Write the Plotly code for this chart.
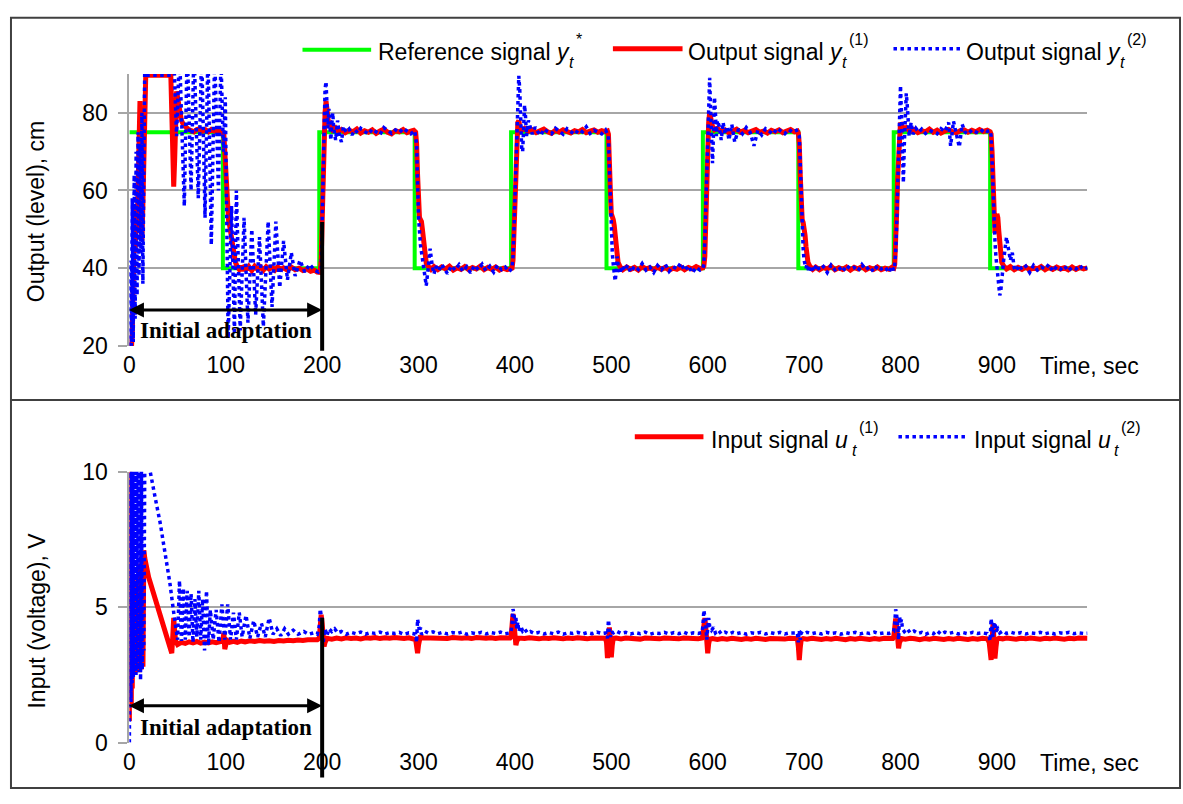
import plotly.graph_objects as go

W, H = 1183, 804

# ---------------- data (time in s) ----------------
x_ticks = [0, 100, 200, 300, 400, 500, 600, 700, 800, 900]
y_ticks_top = [20, 40, 60, 80]
y_ticks_bot = [0, 5, 10]

ref_pts = [(0, 75), (97, 75), (97, 40), (197, 40), (197, 75), (296, 75), (296, 40), (396, 40), (396, 75),
           (495, 75), (495, 40), (595, 40), (595, 75), (694, 75), (694, 40), (793, 40), (793, 75),
           (893, 75), (893, 40), (994, 40)]

out1_pts = [
    (0, 20), (1, 19.5), (2, 19), (3, 23), (4, 38), (5, 50), (6, 44), (7, 56), (8, 49), (9, 66), (10, 76), (11, 83),
    (12, 62), (13, 47), (14, 56), (15, 74), (16, 86), (17, 89.7), (30, 89.7), (43, 89.7), (44, 80), (45, 70), (46, 61),
    (47, 68), (48, 79), (49, 85.5), (50, 84), (52, 80), (54, 78), (56, 77), (58, 76.3), (61, 75.8), (64, 75.4), (67, 75.1),
    (70, 75.7), (73, 75.9), (76, 75.3), (79, 75.6), (82, 75.1), (85, 75.7), (88, 75.3), (91, 75.6), (94, 75.2), (96, 75),
    (98, 74.4), (99, 70), (100, 62), (101, 56), (102, 53), (103, 52), (104, 51), (105, 49.5), (106, 47.5), (107, 45.5),
    (108, 44), (109, 42.5), (110, 41.5), (112, 40.4), (114, 39.7), (116, 40.6), (118, 39.3), (120, 40.8), (122, 39.6),
    (124, 40.4), (127, 39.4), (130, 40.5), (133, 39.7), (136, 40.3), (139, 39.5), (142, 40.4), (145, 39.8), (148, 40.2),
    (151, 39.5), (154, 40.3), (157, 39.7), (160, 40.1), (164, 39.5), (168, 40.3), (172, 39.6), (176, 40), (180, 39.4),
    (184, 39.8), (188, 39.2), (192, 39.5), (195, 39), (198, 38.9),
    (199, 42), (200, 52), (201, 64), (202, 74), (203, 80), (204, 83), (205, 81), (206, 78), (207, 76.5), (209, 77),
    (211, 75.6), (214, 76.1), (217, 75.2), (220, 75.7), (224, 74.9), (228, 75.5), (232, 75.1), (236, 75.8), (240, 74.8),
    (244, 75.4), (248, 75), (252, 75.6), (256, 74.7), (260, 75.3), (264, 75.8), (268, 75), (272, 74.6), (276, 75.4),
    (280, 75.1), (284, 75.7), (288, 74.9), (292, 75.3), (295, 75.5), (297, 75),
    (298, 72), (299, 64), (300, 56), (301, 53), (302, 52.5), (303, 52), (304, 50), (305, 47), (306, 44.5), (307, 42.5),
    (308, 41.3), (310, 40.5), (313, 39.7), (316, 40.4), (320, 39.6), (324, 40.3), (328, 39.8), (332, 40.5), (336, 39.5),
    (340, 40.1), (344, 39.7), (348, 40.4), (352, 39.6), (356, 40.2), (360, 39.8), (364, 40.5), (368, 39.6), (372, 40.2),
    (376, 39.7), (380, 40.3), (384, 39.5), (388, 40), (392, 39.6), (395, 39.8), (397, 40),
    (398, 42), (399, 49), (400, 58), (401, 67), (402, 73.5), (403, 77.5), (404, 78), (405, 76.5), (407, 75.5), (410, 76),
    (414, 75.2), (418, 75.6), (422, 74.9), (426, 75.4), (430, 75.8), (434, 75.1), (438, 74.7), (442, 75.5), (446, 75),
    (450, 75.6), (454, 75.2), (458, 74.8), (462, 75.4), (466, 75.1), (470, 75.7), (474, 74.9), (478, 75.3), (482, 75.6),
    (486, 75), (490, 75.4), (494, 75.1), (496, 75.3),
    (497, 74.5), (498, 70), (499, 60), (500, 54), (501, 53.5), (502, 52.5), (503, 51), (504, 48.5), (505, 45.5), (506, 43),
    (507, 41.5), (509, 40.4), (512, 39.6), (516, 40.3), (520, 39.7), (524, 40.2), (528, 39.5), (532, 40.4), (536, 39.8),
    (540, 40.1), (544, 39.6), (548, 40.3), (552, 39.7), (556, 40.2), (560, 39.5), (564, 40), (568, 39.7), (572, 40.3),
    (576, 39.6), (580, 40.2), (584, 39.8), (588, 40.4), (592, 39.9), (595, 40.1),
    (596, 40.5), (597, 43), (598, 53), (599, 63), (600, 72), (601, 77.5), (602, 80), (603, 78.5), (605, 76.5), (607, 75.6),
    (610, 76), (614, 75.1), (618, 75.6), (622, 74.8), (626, 75.3), (630, 75.8), (634, 75), (638, 75.5), (642, 74.9),
    (646, 75.4), (650, 75.7), (654, 75), (658, 75.3), (662, 74.8), (666, 75.5), (670, 75.1), (674, 75.6), (678, 74.9),
    (682, 75.3), (686, 75.7), (690, 75.1), (693, 75.3),
    (694, 74.8), (695, 72), (696, 64), (697, 56), (698, 52.5), (699, 51.8), (700, 50.8), (701, 48.5), (702, 45.5), (703, 43),
    (704, 41.5), (706, 40.5), (709, 39.7), (712, 40.3), (716, 39.6), (720, 40.2), (724, 39.8), (728, 40.5), (732, 39.6),
    (736, 40.1), (740, 39.7), (744, 40.3), (748, 39.5), (752, 40.2), (756, 39.8), (760, 40.4), (764, 39.6), (768, 40.1),
    (772, 39.7), (776, 40.3), (780, 39.6), (784, 40), (788, 39.7), (791, 40.2), (793, 40),
    (794, 41), (795, 45), (796, 54), (797, 63), (798, 70.5), (799, 75), (800, 77.5), (801, 77), (803, 75.8), (806, 76.2),
    (810, 75.3), (814, 75.7), (818, 74.9), (822, 75.4), (826, 75.1), (830, 75.8), (834, 75), (838, 75.5), (842, 74.8),
    (846, 75.3), (850, 75.7), (854, 75.1), (858, 74.9), (862, 75.4), (866, 75.6), (870, 75), (874, 75.5), (878, 75.1),
    (882, 75.7), (886, 75.2), (890, 75.5), (893, 75.1),
    (894, 74.5), (895, 70), (896, 61), (897, 53), (898, 49), (899, 50.5), (900, 54), (901, 53), (902, 49.5), (903, 45.5),
    (904, 43), (905, 41.5), (907, 40.6), (910, 39.8), (914, 40.4), (918, 39.6), (922, 40.2), (926, 39.7), (930, 40.3),
    (934, 39.6), (938, 40.1), (942, 39.8), (946, 40.4), (950, 39.6), (954, 40.2), (958, 39.7), (962, 40.3), (966, 39.8),
    (970, 40.1), (974, 39.6), (978, 40.3), (982, 39.7), (986, 40.2), (990, 39.8), (994, 40.1)]

out2_pts = [
    (0, 20), (1, 42), (2, 20), (3, 58), (4, 21), (5, 64), (6, 27), (7, 70), (8, 33), (9, 75), (10, 38), (11, 72), (12, 44),
    (13, 80), (14, 36), (15, 88), (16, 93), (17, 89.7), (30, 89.7), (43, 89.7), (46, 95), (49, 74), (52, 96), (57, 56),
    (60, 97), (64, 60), (67, 97), (71.5, 58), (75, 96), (78.5, 53), (81.5, 96), (85, 46), (88.5, 95), (92.4, 60), (95, 94),
    (97.6, 70), (99.5, 84), (102.5, 22), (106, 56), (109, 23), (111, 60), (115, 24), (119, 53), (123, 26), (127, 50),
    (131, 28), (135, 48), (139, 25), (144, 52), (148, 30), (152, 52), (156, 35), (160, 47), (164, 37), (168, 44), (172, 38),
    (177, 42), (182, 39), (187, 41), (192, 39.5), (196, 39), (199, 40),
    (200, 52), (201, 66), (202, 78), (203, 86), (204, 88), (205, 82), (206, 76), (207, 81), (208, 78), (209, 73), (210, 77),
    (211, 80), (212, 76), (214, 73), (216, 78), (218, 74), (220, 72.5), (222, 76.5), (225, 75), (228, 75.8), (231, 74.3),
    (234, 75.6), (237, 74.8), (240, 76), (244, 75.2), (248, 74.5), (252, 75.8), (256, 75.1), (260, 74.4), (264, 76.2),
    (268, 75.3), (272, 74.7), (276, 75.6), (280, 74.9), (284, 76), (288, 75.2), (292, 74.6), (296, 75.4),
    (298, 72), (299, 62), (300, 53), (302, 46), (304, 42), (306, 38), (308, 35.5), (310, 40), (312, 45), (314, 41),
    (316, 38.5), (318, 40.5), (321, 39.3), (324, 41), (327, 39.8), (330, 38.6), (334, 40.6), (338, 39.5), (342, 40.9),
    (346, 39.2), (350, 40.4), (354, 38.8), (358, 40.7), (362, 39.6), (366, 41), (370, 39.3), (374, 40.5), (378, 39),
    (382, 40.8), (386, 39.6), (390, 40.3), (394, 39.1), (397, 40),
    (398, 43), (399, 50), (400, 59), (401, 68), (402, 78), (403, 86), (404, 89.5), (405, 86), (406, 78), (407, 71), (408, 70),
    (409, 78), (410, 82), (411, 79), (412, 74), (414, 78), (416, 76), (418, 74.5), (421, 76.3), (424, 75), (427, 74.2),
    (430, 75.8), (434, 75.1), (438, 74.6), (442, 76), (446, 75.3), (450, 74.5), (454, 75.9), (458, 75.2), (462, 74.4),
    (466, 75.7), (470, 75.1), (474, 76.4), (478, 74.7), (482, 75.5), (486, 75), (490, 74.6), (494, 75.6),
    (497, 74), (498, 66), (499, 57), (500, 49), (501, 44), (502, 41), (503, 38), (504, 36.7), (505, 39), (506, 43), (507, 41),
    (509, 38.6), (511, 40.6), (514, 39.4), (517, 40.8), (520, 39), (524, 40.5), (528, 39.7), (532, 41.2), (536, 39.5),
    (540, 40.3), (544, 38.9), (548, 40.7), (552, 39.6), (556, 41), (560, 39.2), (564, 40.4), (568, 39.8), (572, 41.3),
    (576, 39.4), (580, 40.6), (584, 38.8), (588, 40.2), (592, 39.5), (595, 40),
    (596, 41), (597, 47), (598, 56), (599, 66), (600, 76), (601, 84), (602, 89), (603, 81), (604, 71), (605, 67), (606, 75),
    (607, 84), (608, 80), (609, 74), (610, 78), (612, 76.5), (614, 73), (616, 77.5), (618, 74.5), (620, 76.5), (622, 73),
    (625, 77), (628, 72.5), (632, 75.8), (636, 74.6), (640, 76.2), (644, 75), (648, 71.5), (652, 75.5), (656, 74.3),
    (660, 75.9), (664, 75.1), (668, 74.5), (672, 76), (676, 75.2), (680, 74.6), (684, 75.7), (688, 75), (692, 75.5),
    (695, 74), (696, 67), (697, 58), (698, 50), (699, 45), (700, 42), (701, 40.5), (702, 40), (703, 41), (705, 39),
    (707, 40.6), (710, 39.2), (713, 40.9), (716, 39.5), (720, 40.4), (724, 38.9), (728, 40.8), (732, 39.6), (736, 40.3),
    (740, 39.1), (744, 40.7), (748, 39.8), (752, 40.2), (756, 39.3), (760, 40.9), (764, 39.6), (768, 40.4), (772, 39.1),
    (776, 40.6), (780, 39.8), (784, 40.3), (788, 38.9), (791, 40.5), (793, 39.5),
    (794, 41), (795, 44), (796, 51), (797, 60), (798, 70), (799, 79), (800, 87), (801, 80), (802, 70), (803, 62), (804, 72),
    (805, 80), (806, 85), (807, 82), (808, 78), (809, 74), (811, 77.5), (813, 74.5), (816, 76), (819, 75), (822, 75.8),
    (826, 74.7), (830, 75.5), (834, 75.1), (838, 74.6), (842, 75.9), (846, 75.2), (850, 77.5), (852, 71.5), (855, 77.8),
    (858, 74), (861, 71.2), (864, 77), (867, 75), (870, 74.5), (874, 75.6), (878, 75.1), (882, 74.7), (886, 75.8),
    (890, 75.2), (893, 75.4),
    (894, 74), (895, 68), (896, 59), (897, 52), (898, 47), (899, 43), (900, 40), (901, 37.5), (902, 35), (903, 33), (904, 34),
    (905, 37), (907, 42), (909, 46), (910, 48), (912, 45), (914, 42), (916, 44), (918, 40), (920, 39.3), (923, 40.8),
    (926, 39.6), (930, 40.5), (934, 38.9), (938, 40.7), (942, 39.5), (946, 40.3), (950, 39.8), (954, 41), (958, 39.2),
    (962, 40.4), (966, 39.7), (970, 40.6), (974, 39.3), (978, 40.2), (982, 39.8), (986, 40.7), (990, 39.6), (994, 40.2)]

in1_pts = [
    (0, 0.8), (0.5, 10), (1, 1), (1.5, 9.5), (2, 1.4), (2.5, 8.5), (3, 2), (4, 6), (4.8, 2.6), (5.8, 5.8), (6.7, 2.6),
    (7.6, 5.9), (8.5, 2.7), (9.5, 6.2), (10.4, 2.6), (11.4, 6.6), (12.3, 2.7), (13.2, 6.9), (14.1, 2.8), (15, 7.1),
    (16, 6.8), (20, 6.1), (25, 5.5), (30, 4.9), (35, 4.3), (40, 3.75), (44, 3.3), (45, 3.9), (46, 4.6), (47, 4.1),
    (48, 3.75), (50, 3.62), (54, 3.7), (58, 3.66), (62, 3.72), (66, 3.68), (70, 3.73), (74, 3.67), (78, 3.71), (82, 3.68),
    (86, 3.72), (90, 3.69), (94, 3.73), (97, 3.75), (98, 4.05), (99, 3.45), (100, 3.6), (101, 3.78), (104, 3.7),
    (108, 3.74), (112, 3.7), (116, 3.75), (120, 3.72), (125, 3.76), (130, 3.73), (135, 3.77), (140, 3.74), (145, 3.76),
    (150, 3.73), (155, 3.77), (160, 3.75), (165, 3.78), (170, 3.76), (175, 3.79), (180, 3.77), (185, 3.8), (190, 3.78),
    (195, 3.8),
    (197, 3.85), (198, 4.25), (199, 4.72), (200, 4.4), (201, 3.85), (202, 3.55), (203, 3.7), (205, 3.85), (210, 3.82),
    (215, 3.86), (220, 3.83), (225, 3.87), (230, 3.84), (235, 3.86), (240, 3.83), (245, 3.87), (250, 3.85), (255, 3.88),
    (260, 3.84), (265, 3.87), (270, 3.85), (275, 3.88), (280, 3.86), (285, 3.84), (290, 3.87), (295, 3.85),
    (297, 3.8), (298, 3.55), (299, 3.3), (300, 3.6), (301, 3.9), (302, 3.95), (304, 3.87), (310, 3.86), (315, 3.88),
    (320, 3.85), (325, 3.87), (330, 3.84), (335, 3.88), (340, 3.86), (345, 3.85), (350, 3.87), (355, 3.84), (360, 3.88),
    (365, 3.86), (370, 3.85), (375, 3.87), (380, 3.84), (385, 3.87), (390, 3.85), (395, 3.86),
    (396, 3.9), (397, 4.3), (398, 4.75), (399, 4.4), (400, 3.8), (401, 3.6), (402, 3.75), (404, 3.86), (410, 3.84),
    (415, 3.87), (420, 3.85), (425, 3.83), (430, 3.86), (435, 3.84), (440, 3.87), (445, 3.85), (450, 3.83), (455, 3.86),
    (460, 3.84), (465, 3.87), (470, 3.85), (475, 3.83), (480, 3.86), (485, 3.84), (490, 3.86), (494, 3.85),
    (495, 3.7), (496, 3.12), (497, 3.6), (498, 4.25), (499, 3.7), (500, 3.15), (501, 3.6), (502, 3.85), (505, 3.86),
    (510, 3.83), (515, 3.86), (520, 3.84), (525, 3.85), (530, 3.82), (535, 3.86), (540, 3.84), (545, 3.85), (550, 3.83),
    (555, 3.86), (560, 3.84), (565, 3.85), (570, 3.83), (575, 3.86), (580, 3.84), (585, 3.85), (590, 3.83), (594, 3.86),
    (595, 3.95), (596, 4.3), (597, 4.6), (598, 4.25), (599, 3.7), (600, 3.3), (601, 3.65), (602, 3.82), (605, 3.84),
    (610, 3.81), (615, 3.84), (620, 3.82), (625, 3.85), (630, 3.83), (635, 3.81), (640, 3.84), (645, 3.82), (650, 3.85),
    (655, 3.83), (660, 3.81), (665, 3.84), (670, 3.82), (675, 3.84), (680, 3.82), (685, 3.85), (690, 3.83), (693, 3.84),
    (694, 3.55), (695, 3.05), (696, 3.5), (697, 3.8), (699, 3.84), (703, 3.82), (708, 3.85), (713, 3.83), (718, 3.81),
    (723, 3.84), (728, 3.82), (733, 3.85), (738, 3.83), (743, 3.8), (748, 3.84), (753, 3.82), (758, 3.85), (763, 3.83),
    (768, 3.81), (773, 3.84), (778, 3.82), (783, 3.85), (788, 3.83), (792, 3.84),
    (793, 3.9), (794, 4.25), (795, 4.58), (796, 4.3), (797, 3.8), (798, 3.48), (799, 3.7), (801, 3.84), (805, 3.82),
    (810, 3.85), (815, 3.83), (820, 3.8), (825, 3.84), (830, 3.82), (835, 3.85), (840, 3.83), (845, 3.81), (850, 3.84),
    (855, 3.82), (860, 3.85), (865, 3.83), (870, 3.81), (875, 3.84), (880, 3.82), (885, 3.85), (890, 3.83),
    (892, 3.7), (893, 3.3), (894, 3.05), (895, 3.7), (896, 4.4), (897, 3.8), (898, 3.1), (899, 3.5), (900, 3.8),
    (902, 3.85), (906, 3.83), (910, 3.86), (915, 3.84), (920, 3.82), (925, 3.85), (930, 3.83), (935, 3.86), (940, 3.84),
    (945, 3.82), (950, 3.85), (955, 3.83), (960, 3.86), (965, 3.84), (970, 3.82), (975, 3.85), (980, 3.83), (985, 3.86),
    (990, 3.84), (994, 3.85)]

in2_pts = [
    (0, 0), (0.3, 10.5), (0.7, 1.2), (1.2, 10.5), (1.7, 1.5), (2.3, 10.5), (2.9, 2.2), (3.5, 10.5), (4.1, 2.4),
    (4.8, 10.5), (5.5, 2.6), (6.2, 10.5), (6.9, 2.5), (7.6, 10.5), (8.4, 2.7), (9.2, 10.5), (10, 2.6), (10.8, 10.5),
    (11.6, 2.3), (12.5, 10.5), (13.3, 2.7), (14.2, 10.5), (15, 3.4), (16, 10.5), (20, 10.3), (23, 9.7), (27, 9),
    (32, 8.1), (37, 7.05), (42, 5.9), (46, 4.8), (48, 4.2), (50, 3.8), (52, 5.98), (54, 3.75), (56, 5.7), (58, 3.8),
    (60, 5.6), (62, 3.9), (64, 5.5), (66, 3.7), (68, 5.3), (70, 3.9), (72, 5.6), (74, 3.8), (76, 5.3), (78, 3.4),
    (80, 5.6), (82, 3.6), (84, 4.9), (87, 3.8), (90, 4.9), (93, 3.7), (96, 5.1), (99, 3.8), (102, 5.1), (105, 3.8),
    (108, 4.8), (111, 3.8), (114, 4.8), (117, 3.9), (121, 4.7), (125, 3.85), (129, 4.5), (133, 3.9), (137, 4.4),
    (141, 3.9), (145, 4.6), (149, 4.0), (153, 4.2), (157, 3.95), (161, 4.2), (165, 4.0), (170, 4.15), (175, 4.0),
    (181, 4.1), (186, 4.0), (191, 4.05), (195, 4.0),
    (197, 4.3), (198, 4.93), (199, 4.7), (200, 4.3), (201, 3.65), (202, 4.0), (203, 4.2), (205, 3.95), (207, 4.2),
    (210, 4.1), (213, 4.2), (216, 4.05), (220, 4.1), (225, 4.0), (230, 4.07), (235, 4.02), (240, 4.08), (245, 4.0),
    (250, 4.06), (255, 4.03), (260, 4.08), (265, 4.01), (270, 4.06), (275, 4.03), (280, 4.07), (285, 4.0), (290, 4.05),
    (295, 4.02),
    (297, 4.0), (298, 3.7), (299, 4.55), (300, 4.35), (301, 4.1), (302, 4.25), (303, 4.0), (306, 4.12), (310, 4.05),
    (315, 4.09), (320, 4.02), (325, 4.07), (330, 4.01), (335, 4.06), (340, 4.03), (345, 4.08), (350, 4.0), (355, 4.05),
    (360, 4.02), (365, 4.07), (370, 4.01), (375, 4.06), (380, 4.03), (385, 4.08), (390, 4.02), (395, 4.05),
    (396, 4.1), (397, 4.4), (398, 4.93), (399, 4.75), (400, 4.4), (401, 4.6), (402, 4.2), (403, 4.45), (404, 4.1),
    (406, 4.3), (408, 4.12), (410, 4.2), (413, 4.05), (416, 4.1), (420, 4.03), (425, 4.07), (430, 4.01), (435, 4.06),
    (440, 4.02), (445, 4.08), (450, 4.0), (455, 4.05), (460, 4.03), (465, 4.07), (470, 4.01), (475, 4.06), (480, 4.02),
    (485, 4.08), (490, 4.03), (494, 4.05),
    (495, 4.0), (496, 3.85), (497, 4.53), (498, 4.2), (499, 3.9), (500, 4.1), (502, 4.05), (505, 4.12), (510, 4.03),
    (515, 4.07), (520, 4.01), (525, 4.06), (530, 4.02), (535, 4.08), (540, 4.0), (545, 4.05), (550, 4.03), (555, 4.07),
    (560, 4.01), (565, 4.06), (570, 4.02), (575, 4.08), (580, 4.01), (585, 4.05), (590, 4.03), (594, 4.06),
    (595, 4.3), (596, 4.89), (597, 4.7), (598, 4.4), (599, 3.8), (600, 4.45), (601, 4.6), (602, 4.3), (604, 4.15),
    (606, 4.25), (608, 4.05), (611, 4.15), (614, 4.02), (618, 4.08), (622, 4.01), (626, 4.07), (630, 4.02), (635, 4.06),
    (640, 4.0), (645, 4.05), (650, 4.03), (655, 4.07), (660, 4.01), (665, 4.06), (670, 4.02), (675, 4.07), (680, 4.01),
    (685, 4.05), (690, 4.03), (693, 4.05),
    (694, 3.7), (695, 4.14), (696, 3.8), (697, 4.05), (699, 4.0), (703, 4.07), (708, 4.02), (713, 4.06), (718, 4.01),
    (723, 4.07), (728, 4.03), (733, 4.05), (738, 4.0), (743, 4.06), (748, 4.02), (753, 4.07), (758, 4.01), (763, 4.06),
    (768, 4.03), (773, 4.08), (778, 4.02), (783, 4.05), (788, 4.03), (792, 4.06),
    (793, 4.1), (794, 4.4), (795, 4.92), (796, 4.7), (797, 4.4), (798, 3.8), (799, 4.65), (800, 4.4), (801, 4.55),
    (802, 4.2), (804, 4.1), (807, 4.2), (810, 4.05), (814, 4.12), (818, 4.03), (822, 4.07), (826, 4.0), (830, 4.06),
    (834, 4.02), (838, 4.13), (842, 4.0), (846, 4.08), (850, 4.03), (855, 4.07), (860, 4.01), (865, 4.06), (870, 4.02),
    (875, 4.07), (880, 4.03), (885, 4.05), (890, 4.02),
    (892, 3.9), (893, 3.75), (894, 4.58), (895, 4.3), (896, 3.9), (897, 4.35), (898, 4.45), (899, 4.1), (901, 4.2),
    (903, 4.05), (906, 4.12), (910, 4.03), (915, 4.07), (920, 4.02), (925, 4.06), (930, 4.01), (935, 4.05), (940, 4.03),
    (945, 4.07), (950, 4.02), (955, 4.06), (960, 4.01), (965, 4.05), (970, 4.03), (975, 4.07), (980, 4.02), (985, 4.05),
    (990, 4.03), (994, 4.04)]

# ---------------- styling ----------------
SANS = "Liberation Sans, Arial, sans-serif"
SERIF = "Liberation Serif, Times New Roman, serif"
GREEN, RED, BLUE = "#00ff00", "#ff0000", "#0000ff"
GRID = "#a6a6a6"
FS = 23


def split(pts):
    return [p[0] for p in pts], [p[1] for p in pts]


def px(x):
    return x / W


def py(y):
    return 1 - y / H


fig = go.Figure()
green_line = dict(color=GREEN, width=4)
red_line = dict(color=RED, width=5)
blue_line = dict(color=BLUE, width=3.5, dash="dot")

t, v = split(ref_pts)
fig.add_trace(go.Scatter(x=t, y=v, mode="lines", line=green_line, xaxis="x", yaxis="y", hoverinfo="skip"))
t, v = split(out1_pts)
fig.add_trace(go.Scatter(x=t, y=v, mode="lines", line=red_line, xaxis="x", yaxis="y", hoverinfo="skip"))
t, v = split(out2_pts)
fig.add_trace(go.Scatter(x=t, y=v, mode="lines", line=blue_line, xaxis="x", yaxis="y", hoverinfo="skip"))
t, v = split(in1_pts)
fig.add_trace(go.Scatter(x=t, y=v, mode="lines", line=red_line, xaxis="x2", yaxis="y2", hoverinfo="skip"))
t, v = split(in2_pts)
fig.add_trace(go.Scatter(x=t, y=v, mode="lines", line=blue_line, xaxis="x2", yaxis="y2", hoverinfo="skip"))

tick_font = dict(family=SANS, size=FS, color="black")
xcommon = dict(domain=[px(124), px(1087)], range=[0, 994], tickvals=x_ticks, showgrid=False, zeroline=False,
               showline=False, ticks="", tickfont=tick_font, ticklabelstandoff=3, fixedrange=True)
ycommon = dict(showgrid=True, gridcolor=GRID, gridwidth=2, showline=True, linecolor=GRID, linewidth=2,
               ticks="outside", ticklen=9, tickwidth=2, tickcolor=GRID, tickfont=tick_font, zeroline=False,
               ticklabelstandoff=6, fixedrange=True)

fig.update_layout(
    width=W, height=H, margin=dict(l=0, r=0, t=0, b=0), paper_bgcolor="white", plot_bgcolor="white",
    showlegend=False,
    xaxis=dict(anchor="y", **xcommon),
    xaxis2=dict(anchor="y2", **xcommon),
    yaxis=dict(anchor="x", domain=[py(344), py(63)], range=[20, 90], tickvals=y_ticks_top, **ycommon),
    yaxis2=dict(anchor="x2", domain=[py(754), py(474)], range=[0, 10], tickvals=y_ticks_bot, **ycommon),
)

shapes = []
# outer frame and separator
frame = dict(color="#404040", width=2)
shapes.append(dict(type="rect", xref="paper", yref="paper", x0=px(5), x1=px(1180), y0=py(801), y1=py(5), line=frame))
shapes.append(dict(type="line", xref="paper", yref="paper", x0=px(5), x1=px(1180), y0=py(400), y1=py(400), line=frame))
# vertical black markers at t = 200
shapes.append(dict(type="line", xref="x", yref="paper", x0=200, x1=200, y0=py(216), y1=py(349),
                   line=dict(color="black", width=4), layer="above"))
shapes.append(dict(type="line", xref="x2", yref="paper", x0=200, x1=200, y0=py(625), y1=py(790),
                   line=dict(color="black", width=4), layer="above"))
# legend line samples
shapes.append(dict(type="line", xref="paper", yref="paper", x0=px(298), x1=px(367), y0=py(38), y1=py(38), line=dict(color=GREEN, width=4)))
shapes.append(dict(type="line", xref="paper", yref="paper", x0=px(610), x1=px(680), y0=py(37), y1=py(37), line=dict(color=RED, width=5)))
shapes.append(dict(type="line", xref="paper", yref="paper", x0=px(892), x1=px(959), y0=py(37), y1=py(37), line=dict(color=BLUE, width=3.5, dash="dot")))
shapes.append(dict(type="line", xref="paper", yref="paper", x0=px(632), x1=px(701), y0=py(438), y1=py(438), line=dict(color=RED, width=5)))
shapes.append(dict(type="line", xref="paper", yref="paper", x0=px(897), x1=px(965), y0=py(438), y1=py(438), line=dict(color=BLUE, width=3.5, dash="dot")))
fig.update_layout(shapes=shapes)


def txt(x, y, s, size=FS, xanchor="left", family=SANS, angle=0):
    fig.add_annotation(xref="paper", yref="paper", x=px(x), y=py(y), text=s, showarrow=False, xanchor=xanchor,
                       yanchor="middle", font=dict(family=family, size=size, color="black"), textangle=angle,
                       borderpad=0)


# legend texts: main label, then italic subscript t and superscript index placed after the symbol
legend_items = [
    # (x of label, y of label, label, x of subscript, x of superscript, superscript)
    (373, 40, "Reference signal <i>y</i>", 565, 572, "*"),
    (684, 40, "Output signal <i>y</i>", 839, 846, "(1)"),
    (964, 40, "Output signal <i>y</i>", 1119, 1126, "(2)"),
    (708, 441, "Input signal <i>u</i>", 849, 856, "(1)"),
    (972, 441, "Input signal <i>u</i>", 1113, 1120, "(2)"),
]
for lx, ly, label, sx, spx, sup in legend_items:
    txt(lx, ly, label)
    txt(sx, ly + 11, "<i>t</i>", size=16)
    txt(spx, ly - 13, sup, size=16)

# axis titles
txt(31, 205, "Output (level), cm", xanchor="center", angle=-90)
txt(31, 628, "Input (voltage), V", xanchor="center", angle=-90)
txt(1038, 365, "Time, sec")
txt(1038, 775, "Time, sec")

# "Initial adaptation" labels and double arrows
for xr, yr, ytxt, yarr in (("x", "y", 24.0, 29.25), ("x2", "y2", 0.57, 1.36)):
    fig.add_annotation(xref=xr, yref=yr, x=100, y=ytxt, text="<b>Initial adaptation</b>", showarrow=False,
                       font=dict(family=SERIF, size=FS, color="black"), xanchor="center", yanchor="middle")
    fig.add_annotation(xref=xr, yref=yr, x=200, y=yarr, ax=-2, ay=yarr, axref=xr, ayref=yr, text="",
                       showarrow=True, arrowside="end+start", arrowhead=2, startarrowhead=2, arrowsize=1,
                       startarrowsize=1, arrowwidth=3, arrowcolor="black", standoff=0, startstandoff=0)

fig.write_html("out.html")
